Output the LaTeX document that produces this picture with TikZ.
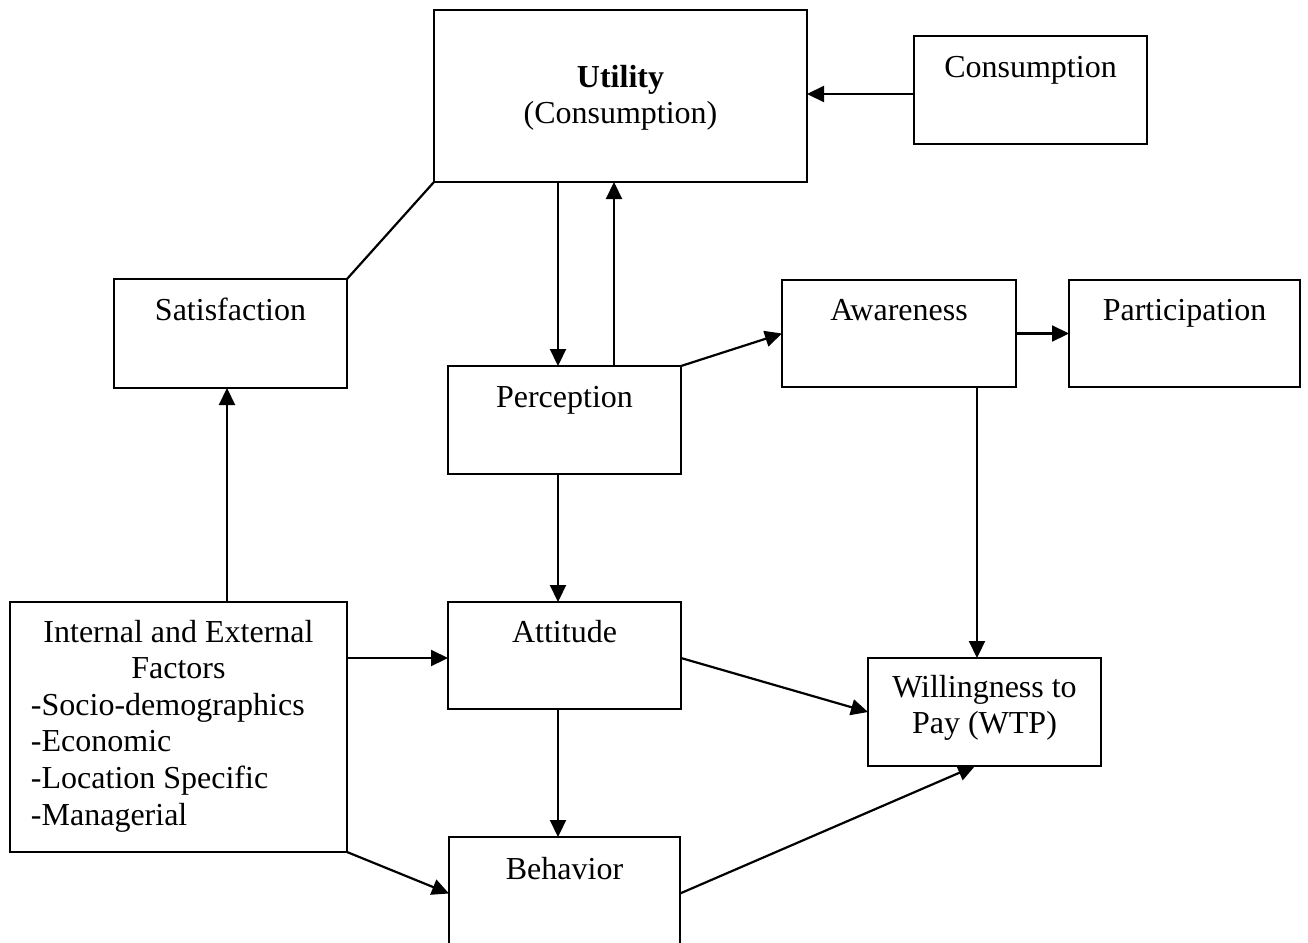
\documentclass[tikz,border=0pt]{standalone}
\usepackage{fontspec}
\setmainfont{Liberation Serif}
\usetikzlibrary{arrows.meta,calc}
\newcommand{\boxtxt}[4]{\parbox[c][#2][t]{#1}{\centering\vspace*{#3}\strut#4\par}}
\begin{document}
\begin{tikzpicture}[x=0.5pt,y=-0.5pt,font=\fontsize{16}{18.3}\selectfont,
  box/.style={draw,line width=1.1pt,inner sep=0pt,outer sep=0pt,anchor=north west},
  arr/.style={line width=1.1pt,-{Triangle[length=8.5pt,width=8pt]}},
  link/.style={line width=1.1pt}]
\useasboundingbox (0,0) rectangle (1308,943);
\clip (0,0) rectangle (1308,943);
\node[box] (util) at (434,10) {\boxtxt{186.5pt}{86pt}{25.69pt}{\textbf{Utility}\\(Consumption)}};
\node[box] (cons) at (914,36) {\boxtxt{116.5pt}{54pt}{7.69pt}{Consumption}};
\node[box] (sat) at (114,279) {\boxtxt{116.5pt}{54.5pt}{7.69pt}{Satisfaction}};
\node[box] (perc) at (448,366) {\boxtxt{116.5pt}{54pt}{7.69pt}{Perception}};
\node[box] (aware) at (782,280) {\boxtxt{117pt}{53.5pt}{7.19pt}{Awareness}};
\node[box] (part) at (1069,280) {\boxtxt{115.5pt}{53.5pt}{7.19pt}{Participation}};
\node[box] (att) at (448,602) {\boxtxt{116.5pt}{53.5pt}{7.19pt}{Attitude}};
\node[box] (beh) at (449,837) {\boxtxt{115.5pt}{56.5pt}{8.19pt}{Behavior}};
\node[box] (wtp) at (868,658) {\boxtxt{116.5pt}{54pt}{6.69pt}{Willingness to\\Pay (WTP)}};
\node[box] (int) at (10,602) {\parbox[c][125pt][t]{168.5pt}{\centering\vspace*{7.19pt}\strut Internal and External\\Factors\par\raggedright\leftskip=10.5pt\relax -Socio-demographics\\-Economic\\-Location Specific\\-Managerial\par}};
\draw[arr] (cons.west |- 0,94) -- (util.east |- 0,94);
\draw[arr] (util.south -| 558,0) -- (perc.north -| 558,0);
\draw[arr] (perc.north -| 614,0) -- (util.south -| 614,0);
\draw[link] (util.south west) -- (sat.north east);
\draw[arr] (perc.north east) -- (aware.west);
\draw[arr] (aware.east) -- (part.west);
\draw[arr] (aware.south -| 977,0) -- (wtp.north -| 977,0);
\draw[arr] (perc.south -| 558,0) -- (att.north -| 558,0);
\draw[arr] (att.south -| 558,0) -- (beh.north -| 558,0);
\draw[arr] (int.north -| 227,0) -- (sat.south -| 227,0);
\draw[arr] (int.east |- 0,658) -- (att.west |- 0,658);
\draw[arr] (int.south east) -- (beh.west);
\draw[arr] (att.east |- 0,658) -- (wtp.west);
\draw[arr] (beh.east) -- (wtp.south -| 975,0);
\end{tikzpicture}
\end{document}
